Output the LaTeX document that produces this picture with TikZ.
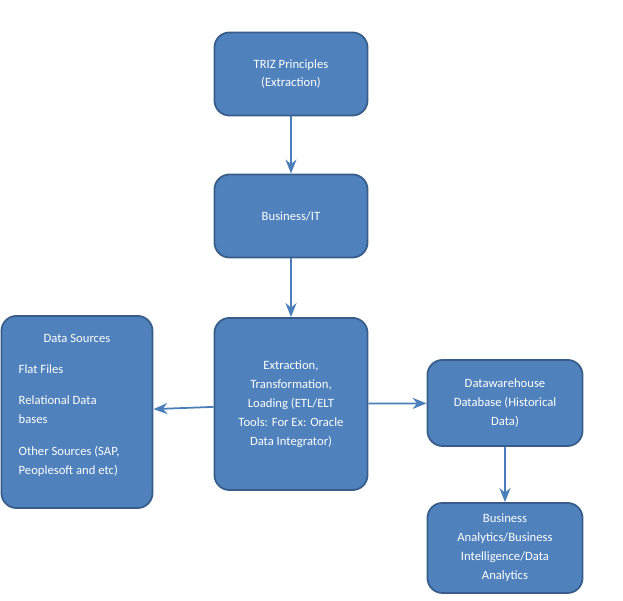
\documentclass[tikz,border=0pt]{standalone}
\usepackage{fontspec}
\setmainfont{Carlito}
\usetikzlibrary{positioning, arrows.meta}
\definecolor{boxfill}{HTML}{4F81BD}
\definecolor{boxline}{HTML}{385D8A}
\definecolor{arrowblue}{HTML}{4A7EBB}
\begin{document}
\begin{tikzpicture}[x=0.01cm, y=-0.01cm,
    block/.style={draw=boxline, line width=0.5pt, fill=boxfill, rounded corners=0.15cm,
      text=white, align=center, font=\fontsize{3.6}{5.4}\selectfont, inner sep=0pt},
    txt/.style={text=white, font=\fontsize{3.6}{5.4}\selectfont, inner sep=0pt, align=left},
    link/.style={draw=arrowblue, line width=0.5pt, -{Stealth[length=1.4mm, width=1.1mm]}}]
        % Frame
        \useasboundingbox (0,0) rectangle (623,601);

        % Boxes
        \node[block, minimum width=1.53cm, minimum height=0.83cm] (triz) at (291,74)
          {TRIZ Principles\\(Extraction)};
        \node[block, minimum width=1.53cm, minimum height=0.83cm] (bit) at (291,216)
          {Business/IT};
        \node[block, minimum width=1.53cm, minimum height=1.72cm] (etl) at (291,404)
          {Extraction,\\Transformation,\\Loading (ETL/ELT\\Tools: For Ex: Oracle\\Data Integrator)};
        \node[block, minimum width=1.51cm, minimum height=1.92cm] (src) at (77,412) {};
        \node[block, minimum width=1.55cm, minimum height=0.86cm] (dwh) at (505,403)
          {Datawarehouse\\Database (Historical\\Data)};
        \node[block, minimum width=1.55cm, minimum height=0.90cm] (bi) at (505,548)
          {Business\\Analytics/Business\\Intelligence/Data\\Analytics};

        % Data source texts
        \node[txt] (srct) at (77,338) {Data Sources};
        \node[txt, anchor=west] (flat) at (18,369) {Flat Files};
        \node[txt, anchor=west] (rel) at (18,410) {Relational Data\\bases};
        \node[txt, anchor=west] (oth) at (18,461) {Other Sources (SAP,\\Peoplesoft and etc)};

        % Connectors
        \draw[link] (triz) -- (bit);
        \draw[link] (bit) -- (etl);
        \draw[link] (etl) -- (src);
        \draw[link] (etl) -- (dwh);
        \draw[link] (dwh) -- (bi);
\end{tikzpicture}
\end{document}
